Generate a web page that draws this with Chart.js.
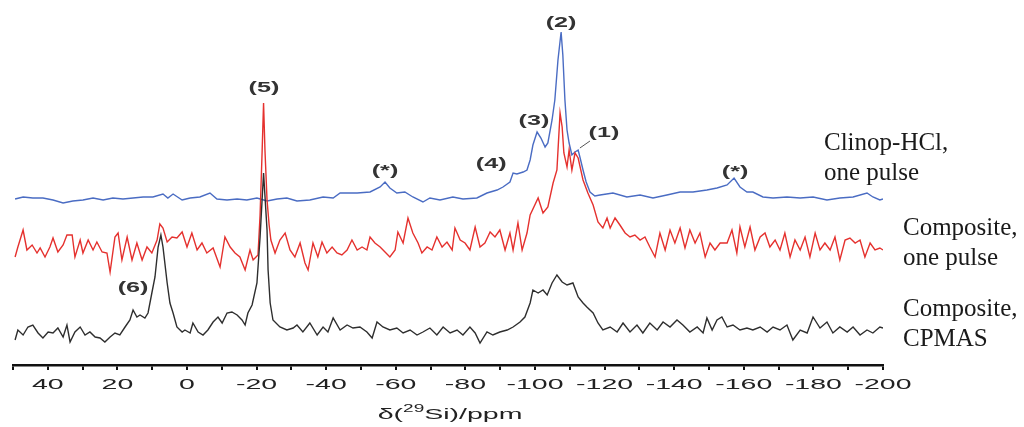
<!DOCTYPE html>
<html>
<head>
<meta charset="utf-8">
<script src="https://cdn.jsdelivr.net/npm/chart.js@4.4.0/dist/chart.umd.min.js"></script>
<style>
html, body { margin: 0; padding: 0; background: #fff; }
#wrap { width: 1024px; height: 427px; }
</style>
</head>
<body>
<div id="wrap"><canvas id="grafico" width="1024" height="427"></canvas></div>
<script>
// [ppm, intensity above the trace's own baseline]
const clinopPulse = [[49.4,-1],[47.1,1],[44.3,0],[41.4,0],[38.5,-2],[35.6,-5],[32.8,-3],[29.9,-2],[27.0,0],[24.1,-2],[21.3,0],[18.4,-1],[15.5,0],[12.6,1],[9.8,1],[6.9,4],[5.5,0],[4.0,4],[1.4,-2],[-0.9,0],[-3.7,1],[-6.6,5],[-8.6,-1],[-11.5,-2],[-14.4,-1],[-17.2,-2],[-20.1,0],[-23.0,-3],[-25.9,-1],[-28.7,0],[-31.6,-3],[-35.3,-2],[-39.1,1],[-42.0,0],[-44.0,5],[-48.9,5],[-52.6,6],[-55.5,11],[-56.9,16],[-58.3,10],[-60.3,5],[-62.6,6],[-64.9,1],[-67.8,-4],[-69.8,0],[-72.7,-2],[-76.4,1],[-79.3,-1],[-83.3,0],[-86.2,5],[-89.1,8],[-90.8,11],[-92.8,16],[-93.7,25],[-94.8,24],[-96.6,26],[-97.7,28],[-98.6,38],[-99.4,53],[-100.6,66],[-101.7,60],[-102.9,51],[-103.7,55],[-104.9,78],[-105.7,98],[-106.6,138],[-107.5,166],[-108.0,143],[-108.6,98],[-109.2,68],[-109.8,55],[-110.6,43],[-111.5,46],[-112.4,48],[-112.9,41],[-113.8,28],[-114.7,16],[-115.8,6],[-117.2,2],[-118.7,3],[-122.4,5],[-126.4,1],[-130.2,3],[-133.9,0],[-137.9,3],[-141.7,6],[-145.4,6],[-149.4,8],[-152.3,10],[-155.2,13],[-157.2,20],[-158.9,11],[-160.9,6],[-162.6,6],[-165.5,1],[-168.4,0],[-172.4,1],[-176.2,0],[-179.9,1],[-183.9,-2],[-187.6,0],[-191.4,1],[-195.4,5],[-197.1,1],[-199.1,-2],[-200.0,-1]];

const compositePulse = [[49.4,-12],[48.6,-2],[47.1,15],[46.0,-5],[44.5,0],[43.1,-8],[42.2,-3],[40.8,-12],[39.4,-2],[38.5,7],[37.1,-7],[35.6,0],[34.5,10],[33.0,10],[32.2,-12],[30.7,5],[29.9,-8],[28.4,5],[27.0,-5],[25.9,3],[24.4,-7],[23.0,-8],[22.1,-27],[20.7,8],[19.8,12],[18.7,-15],[17.2,8],[15.8,-15],[14.4,2],[12.9,-15],[11.5,-2],[10.1,-8],[8.6,5],[7.8,21],[6.9,17],[5.7,3],[4.3,8],[2.9,7],[1.4,13],[0.0,-2],[-1.4,12],[-2.9,-5],[-4.3,2],[-5.7,-8],[-7.5,-3],[-9.5,-22],[-10.9,8],[-12.4,-2],[-13.8,-8],[-15.2,-12],[-16.7,-25],[-18.1,-5],[-19.0,-15],[-20.4,-10],[-21.0,30],[-21.6,95],[-22.0,142],[-22.4,95],[-23.0,45],[-23.6,20],[-24.1,5],[-25.3,-8],[-26.7,5],[-28.2,12],[-29.6,-5],[-31.0,-12],[-32.5,2],[-33.9,-18],[-34.8,-25],[-36.2,2],[-37.6,-12],[-38.8,3],[-40.2,-8],[-41.7,-2],[-43.1,-8],[-44.5,-10],[-46.0,-5],[-47.4,5],[-48.9,-5],[-50.3,-2],[-51.7,-5],[-52.6,8],[-54.0,2],[-55.5,-2],[-56.9,-7],[-58.3,-12],[-59.8,-5],[-60.6,13],[-62.1,2],[-63.5,27],[-64.9,12],[-66.4,2],[-67.5,-8],[-69.0,-2],[-70.4,-5],[-71.8,8],[-73.3,-2],[-74.7,3],[-76.2,-5],[-77.0,17],[-78.5,5],[-79.9,2],[-81.3,-5],[-82.8,18],[-84.2,-2],[-85.6,2],[-87.1,13],[-88.5,8],[-89.9,15],[-91.4,-5],[-92.8,12],[-93.7,-5],[-95.1,22],[-96.3,-5],[-97.7,12],[-98.6,30],[-100.9,47],[-102.3,32],[-103.7,38],[-105.2,62],[-106.3,75],[-107.2,132],[-107.8,118],[-108.3,92],[-109.2,78],[-109.8,95],[-110.6,75],[-111.5,92],[-112.4,87],[-113.8,65],[-115.2,52],[-116.7,40],[-118.1,23],[-119.5,17],[-120.7,27],[-121.6,17],[-123.0,27],[-124.4,20],[-125.9,12],[-127.3,8],[-128.7,10],[-130.2,5],[-131.6,8],[-133.0,-2],[-134.5,-12],[-135.9,12],[-137.4,-5],[-138.8,15],[-140.2,2],[-141.7,17],[-143.1,-3],[-144.5,15],[-146.0,2],[-147.4,12],[-148.9,-12],[-150.3,2],[-151.7,-5],[-153.2,2],[-155.2,2],[-156.6,15],[-158.0,-8],[-158.9,18],[-160.3,-2],[-161.8,18],[-163.2,-5],[-164.7,8],[-166.1,12],[-167.5,-2],[-169.0,5],[-170.4,-5],[-171.8,12],[-173.3,-12],[-174.7,5],[-176.2,-5],[-177.6,8],[-179.0,-12],[-180.5,12],[-181.9,-5],[-183.3,2],[-184.8,-5],[-186.2,8],[-187.6,-15],[-189.1,5],[-190.5,7],[-192.0,2],[-193.4,5],[-194.8,-12],[-196.3,2],[-197.7,-5],[-199.1,-3],[-200.0,-5]];

const compositeCP = [[49.4,-10],[48.6,0],[47.1,-5],[45.7,3],[44.3,5],[42.8,-3],[41.4,-8],[39.9,-2],[38.5,-3],[37.1,2],[35.6,-7],[34.5,5],[33.6,-12],[32.2,-2],[30.7,3],[29.3,-5],[27.9,-2],[26.4,-7],[25.0,-8],[23.6,-12],[22.1,-7],[20.7,-3],[19.3,-5],[17.8,3],[16.4,10],[15.5,20],[14.4,13],[13.5,15],[12.1,12],[11.2,17],[10.1,37],[9.2,53],[8.3,83],[7.5,95],[6.9,83],[5.7,47],[4.9,27],[4.0,17],[2.9,3],[1.4,-2],[0.6,0],[-0.9,-3],[-1.7,7],[-3.2,-2],[-4.6,-5],[-6.0,0],[-7.5,8],[-8.9,13],[-10.1,7],[-11.5,17],[-12.9,18],[-14.4,15],[-15.8,10],[-16.7,5],[-17.5,17],[-18.7,25],[-20.1,47],[-21.0,93],[-22.0,157],[-23.0,100],[-23.3,60],[-23.9,27],[-24.7,10],[-26.7,3],[-28.7,0],[-30.5,2],[-31.6,5],[-33.3,-2],[-35.3,7],[-37.4,-5],[-39.1,3],[-40.5,-2],[-42.0,12],[-44.0,0],[-46.0,5],[-47.7,2],[-49.7,3],[-51.7,-2],[-53.2,-8],[-54.6,8],[-56.3,3],[-58.3,0],[-60.3,2],[-62.1,-3],[-64.1,0],[-66.1,-5],[-67.8,-2],[-69.8,2],[-71.8,-5],[-73.6,3],[-75.6,-3],[-77.6,0],[-79.3,-5],[-81.3,3],[-82.8,-3],[-84.2,-13],[-86.2,-2],[-87.9,-5],[-89.9,-2],[-92.0,0],[-93.7,3],[-95.7,8],[-97.1,13],[-98.6,27],[-99.4,40],[-100.9,37],[-102.3,40],[-103.5,35],[-104.9,47],[-106.3,55],[-107.8,48],[-109.2,45],[-110.9,47],[-112.4,33],[-113.8,27],[-114.9,23],[-116.7,17],[-118.1,7],[-119.5,0],[-121.6,3],[-123.6,-2],[-125.3,7],[-127.3,-2],[-129.3,5],[-131.0,-3],[-133.0,7],[-135.1,0],[-136.8,8],[-138.8,3],[-140.8,10],[-142.5,5],[-144.5,-2],[-146.6,3],[-148.3,-3],[-149.4,12],[-150.9,0],[-152.3,10],[-153.7,13],[-155.2,3],[-156.9,5],[-158.9,0],[-160.9,2],[-162.6,0],[-164.7,3],[-166.7,-2],[-168.4,3],[-170.4,0],[-172.4,5],[-174.1,-10],[-176.2,0],[-178.2,-3],[-179.9,13],[-181.9,2],[-183.9,8],[-185.6,-3],[-187.6,3],[-189.7,-2],[-191.4,3],[-193.4,-5],[-195.4,0],[-197.1,-3],[-199.1,3],[-200.0,2]];

// vertical offsets of the stacked spectra
const clinopOffset = 167;
const pulseOffset = 120;
const cpOffset = 35;

const tickValues = [50, 40, 30, 20, 10, 0, -10, -20, -30, -40, -50, -60, -70, -80, -90, -100, -110, -120, -130, -140, -150, -160, -170, -180, -190, -200];

const peakLabels = [
  { text: '(5)', x: -22.1, y: 277 },
  { text: '(2)', x: -107.5, y: 342 },
  { text: '(3)', x: -99.7, y: 244 },
  { text: '(1)', x: -119.8, y: 232 },
  { text: '(4)', x: -87.4, y: 201 },
  { text: '(*)', x: -56.9, y: 194 },
  { text: '(*)', x: -157.5, y: 193 },
  { text: '(6)', x: 15.5, y: 77 }
];

const traceNames = [
  { lines: ['Clinop-HCl,', 'one pulse'], dx: -59, y: 222 },
  { lines: ['Composite,', 'one pulse'], dx: 20, y: 137 },
  { lines: ['Composite,', 'CPMAS'], dx: 20, y: 56 }
];

const toPoints = (arr, off) => arr.map(p => ({ x: p[0], y: p[1] + off }));

function wideText(ctx, text, x, y, sx) {
  ctx.save();
  ctx.translate(x, y);
  ctx.scale(sx, 1);
  ctx.fillText(text, 0, 0);
  ctx.restore();
}

const textPlugin = {
  id: 'textos',
  afterDraw(chart) {
    const ctx = chart.ctx;
    const xs = chart.scales.x;
    const ys = chart.scales.y;
    const stretch = 1.9;

    // tick labels
    ctx.save();
    ctx.fillStyle = '#222';
    ctx.font = '15px "Liberation Sans", Arial, sans-serif';
    ctx.textAlign = 'center';
    ctx.textBaseline = 'middle';
    tickValues.filter(v => v % 20 === 0 && v >= -200 && v <= 40).forEach(v => {
      wideText(ctx, String(v), xs.getPixelForValue(v), 385, stretch);
    });

    // axis title with superscript
    const big = '15px "Liberation Sans", Arial, sans-serif';
    const small = '10px "Liberation Sans", Arial, sans-serif';
    ctx.textAlign = 'left';
    ctx.font = big;
    const w1 = ctx.measureText('δ(').width;
    const w3 = ctx.measureText('Si)/ppm').width;
    ctx.font = small;
    const w2 = ctx.measureText('29').width;
    const total = (w1 + w2 + w3) * stretch;
    let tx = xs.getPixelForValue(-75.6) - total / 2;
    const ty = 415;
    ctx.font = big;
    wideText(ctx, 'δ(', tx, ty, stretch);
    tx += w1 * stretch;
    ctx.font = small;
    wideText(ctx, '29', tx, ty - 6, stretch);
    tx += w2 * stretch;
    ctx.font = big;
    wideText(ctx, 'Si)/ppm', tx, ty, stretch);

    // peak labels
    ctx.fillStyle = '#333';
    ctx.font = 'bold 14px "Liberation Sans", Arial, sans-serif';
    ctx.textAlign = 'center';
    peakLabels.forEach(l => {
      wideText(ctx, l.text, xs.getPixelForValue(l.x), ys.getPixelForValue(l.y), 1.8);
    });

    // leader line for (1)
    ctx.strokeStyle = '#555';
    ctx.lineWidth = 1;
    ctx.beginPath();
    ctx.moveTo(xs.getPixelForValue(-112.9), ys.getPixelForValue(217));
    ctx.lineTo(xs.getPixelForValue(-115.8), ys.getPixelForValue(224));
    ctx.stroke();

    // trace names on the right
    ctx.fillStyle = '#1a1a1a';
    ctx.font = '25px "Liberation Serif", "Times New Roman", serif';
    ctx.textAlign = 'left';
    traceNames.forEach(t => {
      t.lines.forEach((line, i) => {
        ctx.fillText(line, chart.chartArea.right + t.dx, ys.getPixelForValue(t.y) + i * 30);
      });
    });
    ctx.restore();
  }
};

new Chart(document.getElementById('grafico'), {
  type: 'line',
  data: {
    datasets: [
      {
        label: 'Composite, CPMAS',
        data: toPoints(compositeCP, cpOffset),
        borderColor: '#2e2e2e',
        borderWidth: 1.4,
        pointRadius: 0,
        tension: 0
      },
      {
        label: 'Composite, one pulse',
        data: toPoints(compositePulse, pulseOffset),
        borderColor: '#e5312e',
        borderWidth: 1.4,
        pointRadius: 0,
        tension: 0
      },
      {
        label: 'Clinop-HCl, one pulse',
        data: toPoints(clinopPulse, clinopOffset),
        borderColor: '#4a6cc3',
        borderWidth: 1.4,
        pointRadius: 0,
        tension: 0
      }
    ]
  },
  options: {
    responsive: false,
    animation: false,
    layout: { padding: { left: 13, right: 141, top: 0, bottom: 57 } },
    scales: {
      x: {
        type: 'linear',
        reverse: true,
        min: -200,
        max: 50,
        afterBuildTicks: scale => { scale.ticks = tickValues.map(v => ({ value: v })); },
        ticks: { display: false },
        grid: { display: true, drawOnChartArea: false, drawTicks: true, tickLength: 5, color: '#111', lineWidth: 2 },
        border: { display: true, color: '#111', width: 2.5 }
      },
      y: {
        display: false,
        min: 0,
        max: 365
      }
    },
    plugins: {
      legend: { display: false },
      tooltip: { enabled: false },
      title: { display: false }
    }
  },
  plugins: [textPlugin]
});
</script>
</body>
</html>
